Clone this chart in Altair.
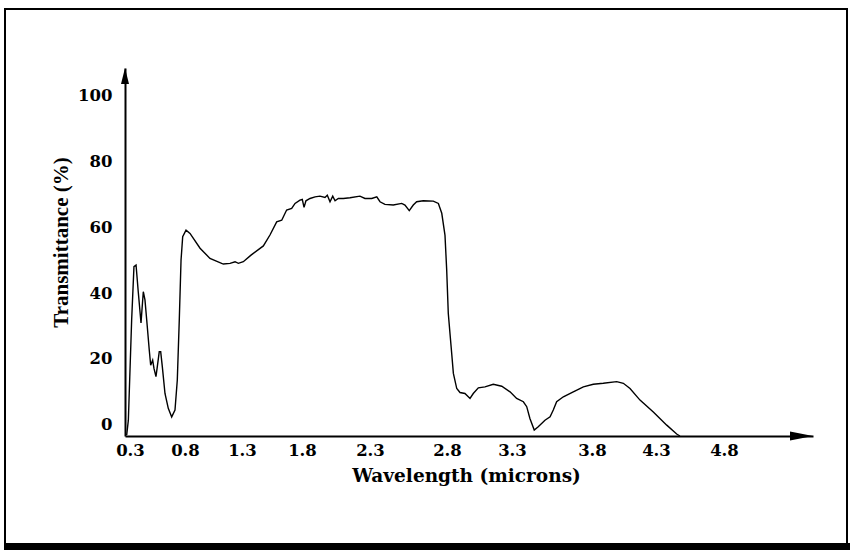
import altair as alt
import pandas as pd

# ---- data (wavelength in microns, transmittance in %) ----
wavelength = [
    0.270, 0.285, 0.315, 0.336, 0.355, 0.375, 0.400, 0.421, 0.436, 0.452,
    0.475, 0.488, 0.506, 0.518, 0.536, 0.548, 0.566, 0.579, 0.594, 0.618,
    0.648, 0.679, 0.709, 0.730, 0.748, 0.764, 0.779, 0.809, 0.844, 0.932,
    1.019, 1.136, 1.195, 1.239, 1.268, 1.311, 1.375, 1.478, 1.533, 1.589,
    1.631, 1.672, 1.714, 1.742, 1.783, 1.802, 1.815, 1.829, 1.859, 1.896,
    1.932, 1.969, 1.986, 2.006, 2.026, 2.043, 2.067, 2.104, 2.153, 2.226,
    2.263, 2.311, 2.344, 2.365, 2.397, 2.451, 2.506, 2.527, 2.555, 2.581,
    2.603, 2.646, 2.711, 2.744, 2.766, 2.787, 2.798, 2.810, 2.823, 2.836,
    2.849, 2.875, 2.900, 2.938, 2.977, 3.002, 3.041, 3.092, 3.156, 3.221,
    3.285, 3.329, 3.371, 3.392, 3.412, 3.439, 3.464, 3.506, 3.538, 3.558,
    3.579, 3.621, 3.683, 3.746, 3.810, 3.888, 3.993, 4.045, 4.097, 4.175,
    4.279, 4.379, 4.452, 4.476,
]
transmittance = [
    -3.1, 1.4, 31.8, 48.0, 48.5, 40.4, 30.9, 40.4, 37.9, 31.8,
    22.7, 18.1, 19.6, 17.1, 14.6, 17.6, 22.2, 22.2, 17.6, 9.5,
    5.0, 2.4, 4.5, 13.6, 31.8, 50.0, 57.1, 59.1, 58.1, 53.6,
    50.5, 48.8, 49.0, 49.5, 49.0, 49.5, 51.5, 54.3, 57.6, 61.6,
    62.1, 65.2, 65.7, 67.2, 68.2, 68.4, 66.0, 68.0, 68.7, 69.2,
    69.4, 69.0, 69.7, 67.7, 69.4, 68.0, 68.7, 68.7, 68.9, 69.4,
    68.7, 68.7, 69.2, 67.7, 66.9, 66.7, 67.2, 66.7, 65.0, 66.7,
    67.7, 68.0, 67.9, 67.2, 64.2, 57.5, 47.0, 33.8, 27.7, 21.7,
    15.6, 11.0, 9.8, 9.5, 8.0, 9.5, 11.2, 11.5, 12.3, 11.7,
    10.0, 8.0, 7.0, 5.5, 1.9, -1.6, -0.6, 1.4, 2.4, 4.5,
    7.0, 8.5, 10.0, 11.5, 12.3, 12.6, 13.1, 12.6, 11.0, 7.5,
    3.9, -0.1, -2.8, -3.4,
]
x_ticks = [0.3, 0.8, 1.3, 1.8, 2.3, 2.8, 3.3, 3.8, 4.3, 4.8]
y_ticks = [0, 20, 40, 60, 80, 100]

df = pd.DataFrame({"Wavelength": wavelength, "Transmittance": transmittance})

W, H = 688, 368
SERIF = "DejaVu Serif"

# the printed axis is not evenly spaced: piecewise-linear scale through the tick labels
x_scale = alt.Scale(
    domain=[0.2545] + x_ticks + [5.454],
    range=[0, 5, 60, 117, 177, 245, 322, 387, 467, 531, 599, W],
    nice=False, zero=False,
)
y_scale = alt.Scale(domain=[-3.4, 108.3], nice=False, zero=False)

x_axis = alt.Axis(
    values=x_ticks, format=".1f", ticks=False, grid=False,
    domainColor="black", domainWidth=2,
    labelFont=SERIF, labelFontWeight="bold", labelFontSize=16.5, labelColor="black",
    labelPadding=6, labelOverlap=False, labelFlush=False,
    title="Wavelength (microns)", titleFont=SERIF, titleFontWeight="bold",
    titleFontSize=18.5, titleColor="black", titleX=341, titleY=45,
    titleBaseline="alphabetic", titleAlign="center",
)
y_axis = alt.Axis(
    values=y_ticks, ticks=False, grid=False,
    domainColor="black", domainWidth=2,
    labelFont=SERIF, labelFontWeight="bold", labelFontSize=16.5, labelColor="black",
    labelPadding=13, labelOverlap=False, labelFlush=False,
    title="Transmittance (%)", titleFont="Liberation Serif", titleFontWeight="bold",
    titleFontSize=21, titleColor="black", titleX=-58, titleY=174,
    titleAngle=270, titleBaseline="alphabetic", titleAlign="center",
)

line = alt.Chart(df).mark_line(color="black", strokeWidth=1.4).encode(
    x=alt.X("Wavelength:Q", scale=x_scale, axis=x_axis),
    y=alt.Y("Transmittance:Q", scale=y_scale, axis=y_axis),
)

one = alt.Data(values=[{"k": 0}])

frame = alt.Chart(one).mark_rect(fill=None, stroke="black", strokeWidth=2).encode(
    x=alt.value(-120), x2=alt.value(722), y=alt.value(-59), y2=alt.value(478)
)
band = alt.Chart(one).mark_rect(color="black").encode(
    x=alt.value(-121), x2=alt.value(725), y=alt.value(475), y2=alt.value(482)
)
x_arrow = alt.Chart(one).mark_point(
    shape="M1,0L-1,-0.4L-1,0.4Z", filled=True, color="black", opacity=1, size=529
).encode(x=alt.value(W - 11.5), y=alt.value(H))
y_arrow = alt.Chart(one).mark_point(
    shape="M0,-1L-0.5,1L0.5,1Z", filled=True, color="black", opacity=1, size=256
).encode(x=alt.value(0), y=alt.value(8))

chart = alt.layer(frame, band, line, x_arrow, y_arrow).properties(
    width=W, height=H,
    autosize=alt.AutoSizeParams(type="none"),
    padding={"left": 125, "top": 68, "right": 37, "bottom": 114},
    background="white",
).configure_view(stroke=None)

chart.save("out.html", embed_options={"renderer": "svg", "actions": False})
